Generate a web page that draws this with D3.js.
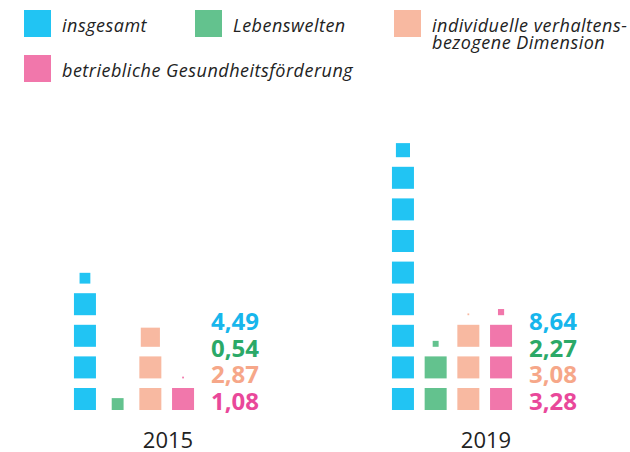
<!DOCTYPE html>
<html>
<head>
<meta charset="utf-8">
<script src="https://cdn.jsdelivr.net/npm/d3@7"></script>
<style>
  body { margin: 0; background: #fff; }
  svg { display: block; }
</style>
</head>
<body>
<div id="chart"></div>
<script>
// data
const categories = ['insgesamt', 'Lebenswelten', 'individuelle verhaltensbezogene Dimension', 'betriebliche Gesundheitsförderung'];
const legendLines = [['insgesamt'], ['Lebenswelten'], ['individuelle verhaltens-', 'bezogene Dimension'], ['betriebliche Gesundheitsförderung']];
const years = ['2015', '2019'];
const values2015 = [4.49, 0.54, 2.87, 1.08];
const values2019 = [8.64, 2.27, 3.08, 3.28];

const fillColors = ['#21c4f3', '#63c28e', '#f8b9a1', '#f177ab'];
const textColors = ['#17b6ec', '#2ba968', '#f6a789', '#e9489a'];

const W = 630, H = 452;
const SQ = 22;

const svg = d3.select('#chart').append('svg')
  .attr('width', W)
  .attr('height', H);

const color = d3.scaleOrdinal().domain(categories).range(fillColors);
const textColor = d3.scaleOrdinal().domain(categories).range(textColors);

//scales
const x0 = d3.scalePoint().domain(years).range([74, 392]);
const x1 = d3.scaleBand().domain(categories).range([0, 120]).paddingInner(0.33);
const y = d3.scaleLinear().domain([0, 1]).range([410, 378.4]);

const fmt = d3.formatLocale({ decimal: ',', thousands: '.', grouping: [3], currency: ['', ' €'] }).format('.2f');

const data = years.map((year, i) => ({
  year,
  values: (i === 0 ? values2015 : values2019).map((v, j) => ({ cat: categories[j], value: v }))
}));

//legend
const legendPos = [[24, 10], [195, 10], [394, 10], [24, 55]];
const legend = svg.selectAll('g.legend').data(categories).enter()
  .append('g')
  .attr('class', 'legend')
  .attr('transform', (d, i) => `translate(${legendPos[i][0]},${legendPos[i][1]})`);

legend.append('rect')
  .attr('width', 27)
  .attr('height', 27)
  .attr('fill', d => color(d));

legend.append('text')
  .attr('x', 38)
  .attr('y', 21.7)
  .style('font-family', '"Open Sans", sans-serif')
  .style('font-style', 'italic')
  .style('font-size', '18px')
  .style('letter-spacing', '0.5px')
  .attr('fill', '#222')
  .selectAll('tspan')
  .data((d, i) => legendLines[i])
  .enter()
  .append('tspan')
  .attr('x', 38)
  .attr('dy', (d, i) => i === 0 ? 0 : 17)
  .text(d => d);

//groups
const groups = svg.selectAll('g.group').data(data).enter()
  .append('g')
  .attr('class', 'group')
  .attr('transform', d => `translate(${x0(d.year)},0)`);

groups.each(function (g) {
  const grp = d3.select(this);

  g.values.forEach(item => {
    const full = Math.floor(item.value);
    const frac = item.value - full;
    const cells = d3.range(full).map(k => ({ k, size: SQ }));
    if (frac > 0.001) cells.push({ k: full, size: SQ * frac });

    grp.selectAll(null).data(cells).enter()
      .append('rect')
      .attr('x', d => x1(item.cat) + (x1.bandwidth() - d.size) / 2)
      .attr('y', d => y(d.k) - d.size)
      .attr('width', d => d.size)
      .attr('height', d => d.size)
      .attr('fill', color(item.cat));
  });

  //value labels
  grp.selectAll('text.value').data(g.values).enter()
    .append('text')
    .attr('class', 'value')
    .attr('x', 137)
    .attr('y', (d, i) => 410 - (3 - i) * 26.7)
    .style('font-family', '"Open Sans", sans-serif')
    .style('font-weight', 700)
    .style('font-size', '24px')
    .attr('fill', d => textColor(d.cat))
    .text(d => fmt(d.value));

  //year label
  grp.append('text')
    .attr('x', 94)
    .attr('y', 447.5)
    .attr('text-anchor', 'middle')
    .style('font-family', '"Open Sans", sans-serif')
    .style('font-size', '22px')
    .attr('fill', '#222')
    .text(g.year);
});
</script>
</body>
</html>
